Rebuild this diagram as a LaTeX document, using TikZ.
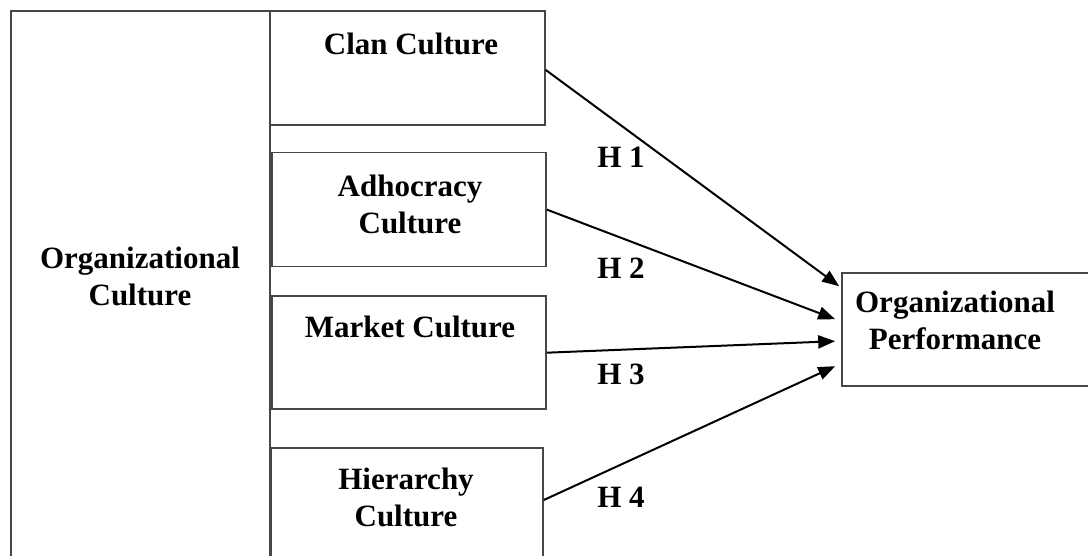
\documentclass[tikz,border=0pt]{standalone}
\usepackage{fontspec}
\setmainfont{Liberation Serif}
\usetikzlibrary{arrows.meta,positioning}
\definecolor{edge}{HTML}{474747}

\begin{document}
\begin{tikzpicture}[x=0.5pt, y=-0.5pt, >={Triangle[length=8.5pt,width=6.5pt]},
  font=\bfseries\fontsize{15.5}{18.5}\selectfont, node distance=13.5pt,
  box/.style={draw=edge, line width=0.8pt, inner sep=0pt, minimum width=137pt, minimum height=57pt},
  txt/.style={align=center, inner sep=0pt},
  hyp/.style={->, line width=1pt}]
\clip (0,0) rectangle (1088,556);
\useasboundingbox (0,0) rectangle (1088,556);
% boxes
\node[box, minimum width=129.5pt, minimum height=294.5pt] (orgcult) at (140.5,305.5) {};
\node[box, minimum width=137.5pt] (clan) at (407.5,68) {};
\node[box, below=13pt of clan, xshift=0.75pt] (adho) {};
\node[box, below=14pt of adho, minimum height=56.5pt] (market) {};
\node[box, below=18.5pt of market, xshift=-1pt, minimum width=136pt, minimum height=76.5pt] (hier) {};
\node[box, minimum width=139.5pt, minimum height=56.5pt] (perf) at (981.5,329.5) {};
% texts
\node[txt] (orgculttxt) at (140,276) {Organizational\\Culture};
\node[txt] (clantxt) at (411,44) {Clan Culture};
\node[txt] (adhotxt) at (410,204) {Adhocracy\\Culture};
\node[txt] (markettxt) at (410,327) {Market Culture};
\node[txt] (hiertxt) at (406,497) {Hierarchy\\Culture};
\node[txt] (perftxt) at (955,320) {Organizational\\Performance};
% hypotheses
\draw[hyp] ([yshift=-1pt]clan.east) -- ([xshift=-1pt,yshift=-7pt]perf.north west);
\draw[hyp] (adho.east) -- ([xshift=-3pt,yshift=-23.5pt]perf.north west);
\draw[hyp] (market.east) -- ([xshift=-3pt,yshift=-34.5pt]perf.north west);
\draw[hyp] ([yshift=-26.5pt]hier.north east) -- ([xshift=-3pt,yshift=-47pt]perf.north west);
\node[txt] (h1) at (621,157) {H 1};
\node[txt] (h2) at (621,268) {H 2};
\node[txt] (h3) at (621,374) {H 3};
\node[txt] (h4) at (621,497) {H 4};
\end{tikzpicture}
\end{document}
